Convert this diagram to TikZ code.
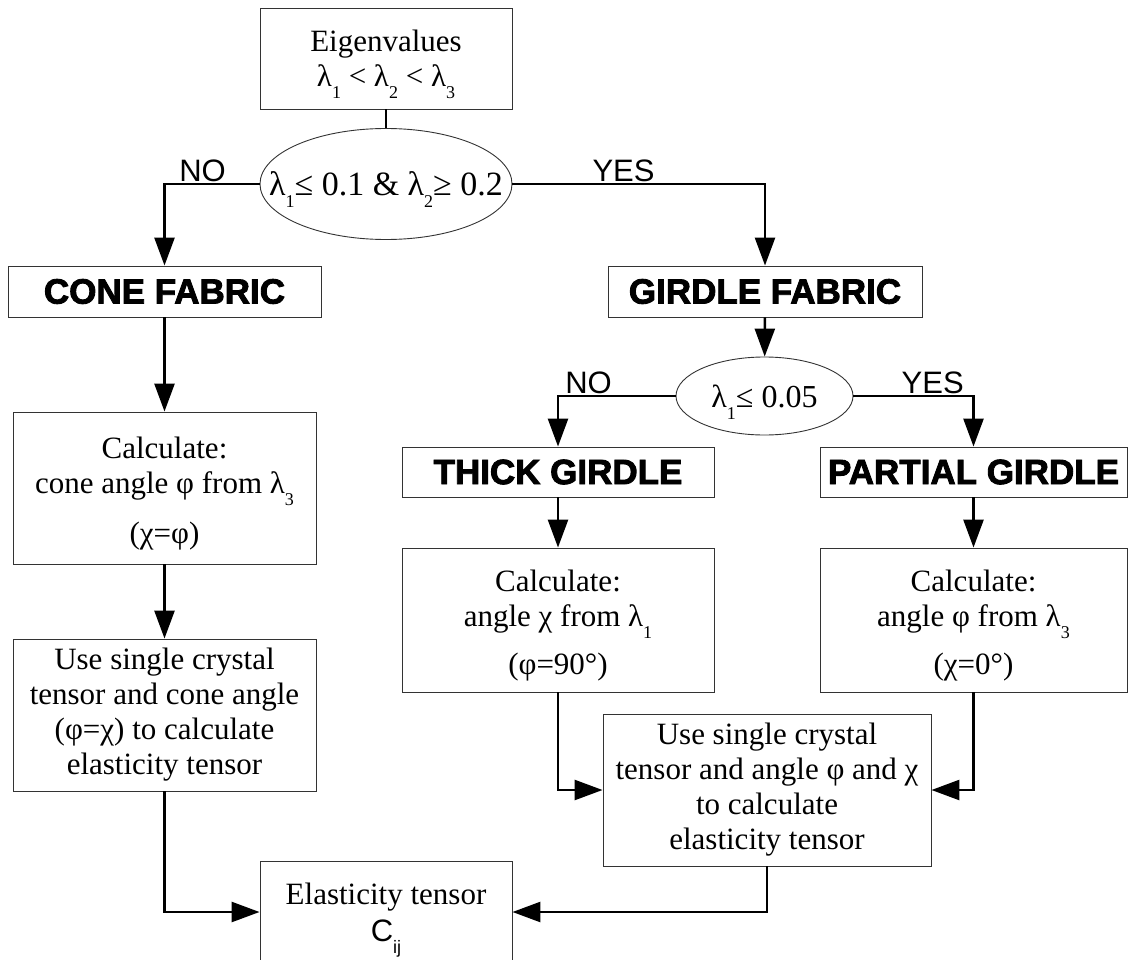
\documentclass[tikz,border=0pt]{standalone}
\usepackage{fontspec}
\setmainfont{Liberation Serif}
\newfontfamily\labelfont{Liberation Sans}
\newfontfamily\heavyfont{Liberation Sans Bold}[FakeBold=2.5]
\usetikzlibrary{arrows.meta,shapes.geometric}
\newcommand\lsub[1]{\smash{\raisebox{-12pt}{\fontsize{18}{18}\selectfont #1}}}
\newcommand\topgap{\rule{0pt}{32pt}}

\begin{document}
\begin{tikzpicture}[x=1pt,y=-1pt,
  box/.style={draw=black!80, line width=0.9pt, inner sep=0pt, align=center,
              font=\fontsize{31}{35}\selectfont},
  fabric/.style={box, font=\heavyfont\fontsize{35}{35}\selectfont},
  test/.style={box, ellipse},
  link/.style={line width=2.6pt},
  flow/.style={link, -{Triangle[length=28pt,width=20pt]}},
  answer/.style={font=\labelfont\fontsize{31}{31}\selectfont, inner sep=1pt, above}]
  \useasboundingbox (0,0) rectangle (1129,960);

  % top of the tree
  \node[box, minimum width=252, minimum height=101] (eig) at (386,58.5)
        {Eigenvalues\\λ\lsub{1} < λ\lsub{2} < λ\lsub{3}};
  \node[test, minimum width=252, minimum height=111, font=\fontsize{34}{36}\selectfont] (q1) at (386,184)
        {\makebox[0pt]{λ\lsub{1}≤ 0.1 \& λ\lsub{2}≥ 0.2}};

  % cone branch
  \node[fabric, minimum width=313, minimum height=51] (cone) at (164.5,291.5) {CONE FABRIC};
  \node[box, minimum width=303, minimum height=152] (conecalc) at (164.5,488)
        {\topgap Calculate:\\cone angle φ from λ\lsub{3}\\[15pt](χ=φ)};
  \node[box, minimum width=303, minimum height=152] (coneuse) at (164.5,715)
        {Use single crystal\\tensor and cone angle\\(φ=χ) to calculate\\elasticity tensor};

  % girdle branch
  \node[fabric, minimum width=314, minimum height=51] (girdle) at (765,291.5) {GIRDLE FABRIC};
  \node[test, minimum width=177, minimum height=78, font=\fontsize{32}{34}\selectfont] (q2) at (764.5,396)
        {\makebox[0pt]{λ\lsub{1}≤ 0.05}};
  \node[fabric, minimum width=312, minimum height=50] (thick) at (558,472) {THICK GIRDLE};
  \node[fabric, minimum width=307, minimum height=50] (partial) at (973.5,472) {PARTIAL GIRDLE};
  \node[box, minimum width=312, minimum height=144] (thickcalc) at (558,620)
        {\topgap Calculate:\\angle χ from λ\lsub{1}\\[13pt](φ=90°)};
  \node[box, minimum width=307, minimum height=144] (partialcalc) at (973.5,620)
        {\topgap Calculate:\\angle φ from λ\lsub{3}\\[13pt](χ=0°)};
  \node[box, minimum width=328, minimum height=152] (girdleuse) at (767,790)
        {Use single crystal\\tensor and angle φ and χ\\to calculate\\elasticity tensor};

  \node[box, minimum width=252, minimum height=102] (elast) at (386,912)
        {Elasticity tensor\\[2pt]{\labelfont C\lsub{ij}}};

  % connectors
  \draw[link] (eig.south) -- (q1.north);
  \draw[flow] (q1.west) -| node[answer, pos=0.3] {NO} (cone.north);
  \draw[flow] (q1.east) -| node[answer, pos=0.22] {YES} (girdle.north);
  \draw[flow] (cone) -- (conecalc);
  \draw[flow] (conecalc) -- (coneuse);
  \draw[flow] (coneuse.south) |- (elast.west);
  \draw[flow] (girdle) -- (q2);
  \draw[flow] (q2.west) -| node[answer, pos=0.37] {NO} (thick.north);
  \draw[flow] (q2.east) -| node[answer, pos=0.33] {YES} (partial.north);
  \draw[flow] (thick) -- (thickcalc);
  \draw[flow] (partial) -- (partialcalc);
  \draw[flow] (thickcalc.south) |- (girdleuse.west);
  \draw[flow] (partialcalc.south) |- (girdleuse.east);
  \draw[flow] (girdleuse.south) |- (elast.east);
\end{tikzpicture}
\end{document}
